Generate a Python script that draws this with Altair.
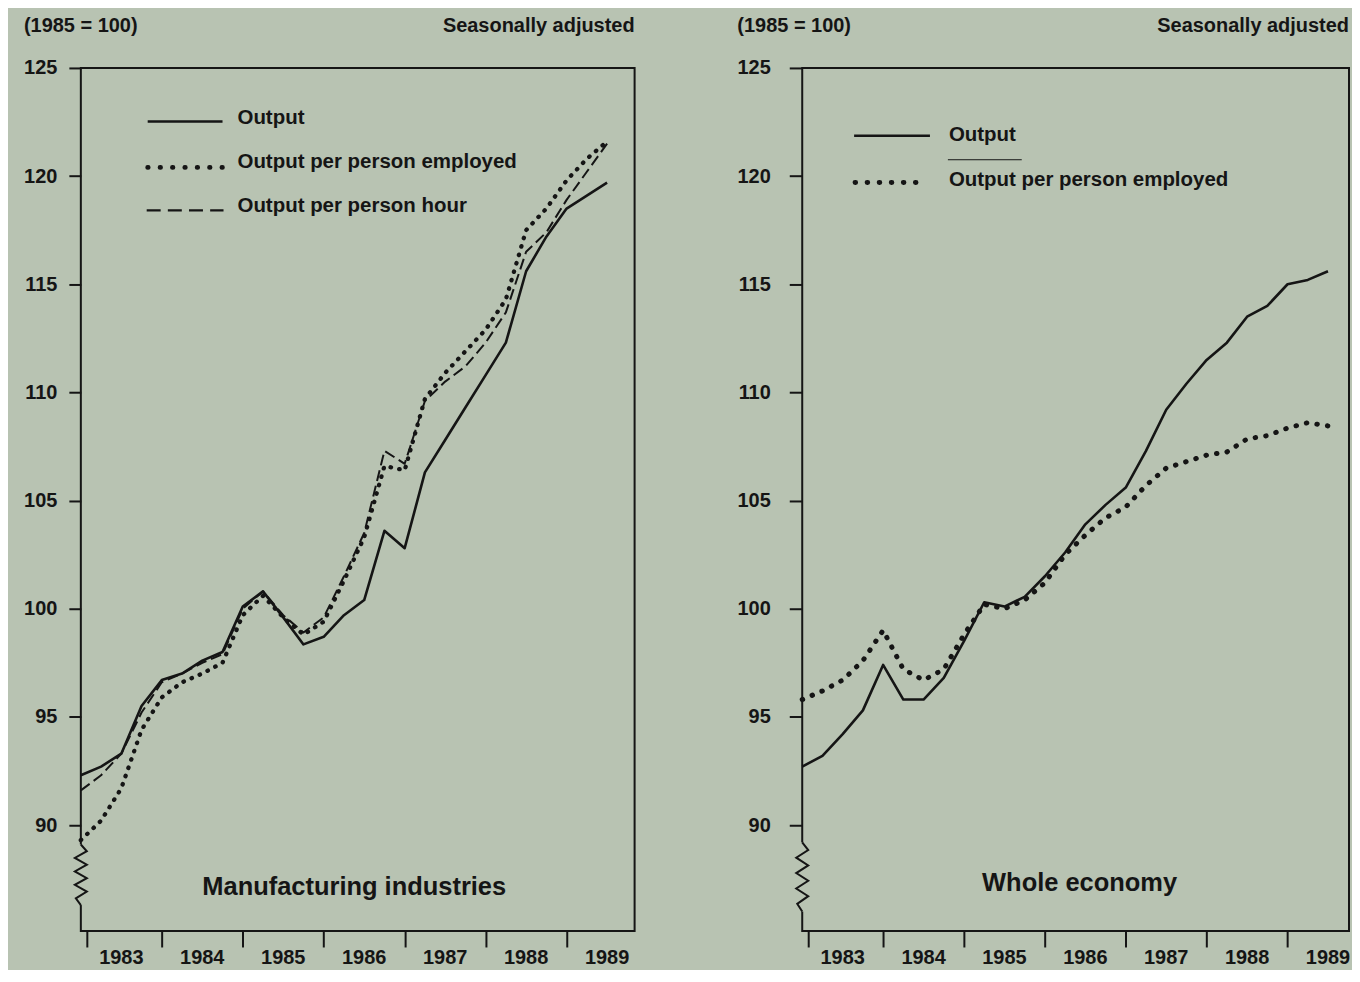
import altair as alt
import pandas as pd

# ---------------- data ----------------
QUARTERS = [f"{y} Q{q}" for y in range(1983, 1990) for q in range(1, 5)][:27]
YEARS = [1983, 1984, 1985, 1986, 1987, 1988, 1989]
Y_TICKS = [90, 95, 100, 105, 110, 115, 120, 125]
X_TICKS = [1983.07, 1984, 1985, 1986, 1987, 1988, 1989]

MANU_OUTPUT = [92.3, 92.7, 93.3, 95.5, 96.7, 97.0, 97.6, 98.0, 100.1, 100.8,
               99.6, 98.35, 98.7, 99.7, 100.4, 103.6, 102.8, 106.3, 107.8, 109.3,
               110.8, 112.3, 115.6, 117.2, 118.5, 119.1, 119.7]
MANU_PER_EMPLOYED = [89.3, 90.2, 91.7, 94.4, 95.9, 96.6, 97.0, 97.5, 99.7, 100.6,
                     99.6, 98.8, 99.4, 101.3, 103.3, 106.6, 106.4, 109.7, 110.9, 111.9,
                     112.9, 114.3, 117.5, 118.5, 119.8, 120.8, 121.6]
MANU_PER_HOUR = [91.6, 92.3, 93.3, 95.2, 96.6, 97.0, 97.5, 97.9, 100.0, 100.8,
                 99.7, 98.9, 99.6, 101.5, 103.5, 107.3, 106.7, 109.6, 110.5, 111.2,
                 112.3, 113.7, 116.5, 117.4, 118.9, 120.2, 121.5]
ECON_OUTPUT = [92.7, 93.2, 94.2, 95.3, 97.4, 95.8, 95.8, 96.8, 98.5, 100.3,
               100.1, 100.55, 101.5, 102.6, 103.9, 104.8, 105.6, 107.3, 109.2, 110.4,
               111.5, 112.3, 113.5, 114.0, 115.0, 115.2, 115.6]
ECON_PER_EMPLOYED = [95.8, 96.2, 96.7, 97.6, 99.0, 97.2, 96.7, 97.2, 98.8, 100.2,
                     100.0, 100.4, 101.2, 102.5, 103.4, 104.2, 104.7, 105.7, 106.5, 106.8,
                     107.1, 107.25, 107.85, 108.0, 108.35, 108.6, 108.45]

SERIES_NAMES = ["Output", "Output per person employed", "Output per person hour"]
PANEL_TITLES = ["Manufacturing industries", "Whole economy"]
UNIT_NOTE = "(1985 = 100)"
ADJ_NOTE = "Seasonally adjusted"

# ---------------- style ----------------
BG = "#b8c3b2"
INK = "#151515"
FONT = "Liberation Sans"
H = 865
Y_DOMAIN = [85.1, 125]


def qtime(label):
    y, q = label.split(" Q")
    return int(y) + (int(q) - 1) / 4.0


def txt(text, x, y, size=20.5, align="left"):
    return alt.Chart(pd.DataFrame({"label": [text]})).mark_text(
        font=FONT, fontSize=size, fontWeight="bold", color=INK,
        align=align, baseline="alphabetic"
    ).encode(x=alt.value(x), y=alt.value(y), text="label:N")


def leg_rule(name, x1, x2, y, **style):
    return alt.Chart(pd.DataFrame({"label": [name]})).mark_rule(
        color=INK, **style
    ).encode(x=alt.value(x1), x2=alt.value(x2), y=alt.value(y))


def panel(series, width, x_max, tick_size, label_pad, note_x, legend, title_x,
          title_y, brk, break_x):
    rows = []
    for name, vals, _ in series:
        for q, v in zip(QUARTERS, vals):
            rows.append({"quarter": q, "t": qtime(q), "series": name, "value": v})
    df = pd.DataFrame(rows)
    xs = alt.Scale(domain=[1983, x_max], nice=False, zero=False)
    ys = alt.Scale(domain=Y_DOMAIN, nice=False, zero=False)

    xaxis = alt.Axis(values=X_TICKS, labels=False, tickSize=16, tickWidth=2,
                     tickColor=INK, domain=False, grid=False, title=None)
    yaxis = alt.Axis(values=Y_TICKS, tickSize=tick_size, tickWidth=2, tickColor=INK,
                     labelFont=FONT, labelFontSize=20, labelFontWeight="bold",
                     labelColor=INK, labelPadding=label_pad, domain=False,
                     grid=False, title=None)

    layers = []
    for name, vals, style in series:
        layers.append(
            alt.Chart(df).transform_filter(alt.datum.series == name)
            .mark_line(color=INK, strokeJoin="round", **style)
            .encode(
                x=alt.X("t:Q", scale=xs, axis=xaxis),
                y=alt.Y("value:Q", scale=ys, axis=yaxis),
            )
        )

    # year labels centred in each year
    ydf = pd.DataFrame({"year": YEARS, "mid": [y + 0.5 for y in YEARS]})
    layers.append(
        alt.Chart(ydf).mark_text(font=FONT, fontSize=20, fontWeight="bold",
                                 color=INK, baseline="alphabetic")
        .encode(x=alt.X("mid:Q", scale=xs, axis=xaxis), y=alt.value(H + 33),
                text="year:N")
    )

    # axis break on the left frame
    top, bot = brk
    layers.append(
        alt.Chart(pd.DataFrame({"a": [0]})).mark_rect(color=BG)
        .encode(x=alt.value(-5), x2=alt.value(5),
                y=alt.Y(datum=top, scale=ys, axis=yaxis), y2=alt.datum(bot))
    )
    n = len(break_x)
    zz = pd.DataFrame({
        "k": list(range(n)),
        "zx": break_x,
        "zy": [top + (bot - top) * i / (n - 1) for i in range(n)],
    })
    layers.append(
        alt.Chart(zz).mark_line(color=INK, strokeWidth=2, strokeJoin="miter")
        .encode(x=alt.X("zx:Q", scale=None), y=alt.Y("zy:Q", scale=ys, axis=yaxis),
                order="k:Q")
    )

    # notes above the frame
    layers.append(txt(UNIT_NOTE, note_x, -36, size=20))
    layers.append(txt(ADJ_NOTE, width, -36, size=20, align="right"))

    # legend
    for item in legend:
        layers.append(item)

    layers.append(txt(title_x[0], title_x[1], title_y, size=25.5, align="center"))

    return alt.layer(*layers).properties(width=width, height=H)


manu_series = [
    (SERIES_NAMES[0], MANU_OUTPUT, {"strokeWidth": 2.6}),
    (SERIES_NAMES[1], MANU_PER_EMPLOYED,
     {"strokeWidth": 4.3, "strokeDash": [0.5, 8.3], "strokeCap": "round"}),
    (SERIES_NAMES[2], MANU_PER_HOUR, {"strokeWidth": 2.0, "strokeDash": [11, 5]}),
]
econ_series = [
    (SERIES_NAMES[0], ECON_OUTPUT, {"strokeWidth": 2.6}),
    (SERIES_NAMES[1], ECON_PER_EMPLOYED,
     {"strokeWidth": 5.0, "strokeDash": [0.5, 10.2], "strokeCap": "round"}),
]

manu_legend = [
    leg_rule(SERIES_NAMES[0], 67, 142, 53.7, strokeWidth=2.4),
    txt(SERIES_NAMES[0], 157, 56),
    leg_rule(SERIES_NAMES[1], 67, 142, 99.7, strokeWidth=4.8,
             strokeDash=[0.5, 11.9], strokeCap="round"),
    txt(SERIES_NAMES[1], 157, 100),
    leg_rule(SERIES_NAMES[2], 66, 143, 142.7, strokeWidth=2.2, strokeDash=[14, 7.2]),
    txt(SERIES_NAMES[2], 157, 144.5),
]
econ_legend = [
    leg_rule(SERIES_NAMES[0], 52, 128, 68, strokeWidth=2.4),
    txt(SERIES_NAMES[0], 147, 73),
    leg_rule(SERIES_NAMES[0], 146, 220, 92, strokeWidth=1),
    leg_rule(SERIES_NAMES[1], 53, 125, 114.7, strokeWidth=5,
             strokeDash=[0.5, 11.6], strokeCap="round"),
    txt(SERIES_NAMES[1], 147, 118),
]

left = panel(manu_series, 555, 1989.84, 12, 12, -57, manu_legend,
             (PANEL_TITLES[0], 274), H - 36, (89.1, 86.3),
             [0, 6, -6, 6, -6, 6, -6, 6, -5, 0])
right = panel(econ_series, 548, 1989.76, 13, 19, -65, econ_legend,
              (PANEL_TITLES[1], 278), H - 40, (89.2, 86.0),
              [0, 6, -6, 6, -6, 6, -6, 6, -5, 0])

chart = (
    alt.hconcat(left, right, spacing=100)
    .properties(padding={"left": 14, "top": 6, "right": 0, "bottom": 0})
    .configure(background=BG)
    .configure_view(stroke=INK, strokeWidth=2, fill=None)
)

chart.save("out.html", embed_options={"renderer": "svg", "actions": False})
